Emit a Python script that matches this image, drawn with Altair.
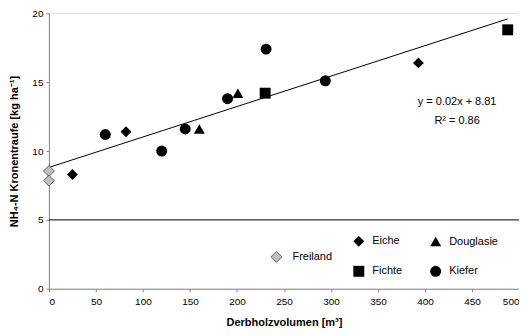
import altair as alt
import pandas as pd

# Data
freiland_x = [0, 0]
freiland_y = [8.55, 7.85]
eiche_x = [25, 82, 393]
eiche_y = [8.3, 11.4, 16.4]
douglasie_x = [160, 201]
douglasie_y = [11.6, 14.2]
fichte_x = [230, 488]
fichte_y = [14.2, 18.8]
kiefer_x = [60, 120, 145, 190, 231, 294]
kiefer_y = [11.2, 10.0, 11.6, 13.8, 17.4, 15.1]

# legend fills column by column: Eiche/Fichte, then Douglasie/Kiefer
species = ["Eiche", "Fichte", "Douglasie", "Kiefer"]
shapes = ["diamond", "square", "triangle-up", "circle"]

slope = 0.0221
intercept = 8.81
eq_lines = ["y = 0.02x + 8.81", "R² = 0.86"]
ref_level = [5]

FONT = "Liberation Sans"

rows = []
for name, xs, ys in [("Eiche", eiche_x, eiche_y), ("Douglasie", douglasie_x, douglasie_y),
                     ("Fichte", fichte_x, fichte_y), ("Kiefer", kiefer_x, kiefer_y)]:
    for x, y in zip(xs, ys):
        rows.append({"Art": name, "x": x, "y": y})
trees = pd.DataFrame(rows)
frei = pd.DataFrame({"grp": ["Freiland"] * len(freiland_x), "x": freiland_x, "y": freiland_y})

all_x = freiland_x + eiche_x + douglasie_x + fichte_x + kiefer_x
x0, x1 = min(all_x), max(all_x)
trend = pd.DataFrame({"x": [x0, x1], "y": [intercept + slope * x0, intercept + slope * x1]})

xscale = alt.Scale(domain=[0, 500], nice=False, zero=True)
yscale = alt.Scale(domain=[0, 20], nice=False)

xaxis = alt.Axis(title="Derbholzvolumen [m³]", values=list(range(0, 501, 50)), grid=False,
                 tickSize=3, labelPadding=5, titlePadding=10)
yaxis = alt.Axis(title="NH₄-N Kronentraufe [kg ha⁻¹]", values=[0, 5, 10, 15, 20], grid=False,
                 tickSize=3, labelPadding=3, titlePadding=12)

base_x = alt.X("x:Q", scale=xscale, axis=xaxis)
base_y = alt.Y("y:Q", scale=yscale, axis=yaxis)

line = alt.Chart(trend).mark_line(color="black", strokeWidth=1).encode(x=base_x, y=base_y)

hrule = alt.Chart(pd.DataFrame({"y": ref_level})).mark_rule(color="black", strokeWidth=1).encode(
    y=base_y
)

tree_pts = alt.Chart(trees).mark_point(filled=True, color="black", size=120, opacity=1).encode(
    x=base_x, y=base_y,
    shape=alt.Shape("Art:N", scale=alt.Scale(domain=species, range=shapes), title=None,
                    legend=alt.Legend(orient="none", legendX=305, legendY=223, columns=2,
                                      symbolFillColor="black", symbolStrokeColor="black",
                                      symbolSize=120, labelFontSize=11, labelFont=FONT,
                                      labelColor="black", columnPadding=28, rowPadding=18,
                                      labelOffset=8, symbolStrokeWidth=0)),
)

frei_pts = alt.Chart(frei).mark_point(filled=True, shape="diamond", size=120, stroke="#404040",
                                      strokeWidth=0.8, opacity=1).encode(
    x=base_x, y=base_y,
    color=alt.Color("grp:N", scale=alt.Scale(domain=["Freiland"], range=["#c0c0c0"]), title=None,
                    legend=alt.Legend(orient="none", legendX=222, legendY=238, symbolType="diamond",
                                      symbolSize=120, symbolStrokeColor="#404040",
                                      symbolStrokeWidth=0.8, labelFontSize=11, labelFont=FONT,
                                      labelColor="black", labelOffset=10)),
)

eq_df = pd.DataFrame({"t": eq_lines})
eq1 = alt.Chart(eq_df.iloc[[0]]).mark_text(
    fontSize=11, font=FONT, fontWeight="normal", color="black", align="center", baseline="middle"
).encode(text="t:N", x=alt.value(409), y=alt.value(89))
eq2 = alt.Chart(eq_df.iloc[[1]]).mark_text(
    fontSize=11, font=FONT, fontWeight="normal", color="black", align="center", baseline="middle"
).encode(text="t:N", x=alt.value(409), y=alt.value(108))

chart = alt.layer(hrule, line, tree_pts, frei_pts, eq1, eq2).properties(
    width=471, height=276,
    autosize=alt.AutoSizeParams(type="none"),
    padding={"left": 41, "top": 5, "right": 0, "bottom": 40},
).configure_view(stroke="black", strokeWidth=1).configure_axis(
    domainColor="black", tickColor="black", labelColor="#222222", labelFont=FONT, labelFontSize=9.5,
    titleFont=FONT, titleFontSize=10, titleFontWeight="bold", titleColor="black"
).configure(background="white")

chart.save("out.html", embed_options={"renderer": "svg", "actions": False})
